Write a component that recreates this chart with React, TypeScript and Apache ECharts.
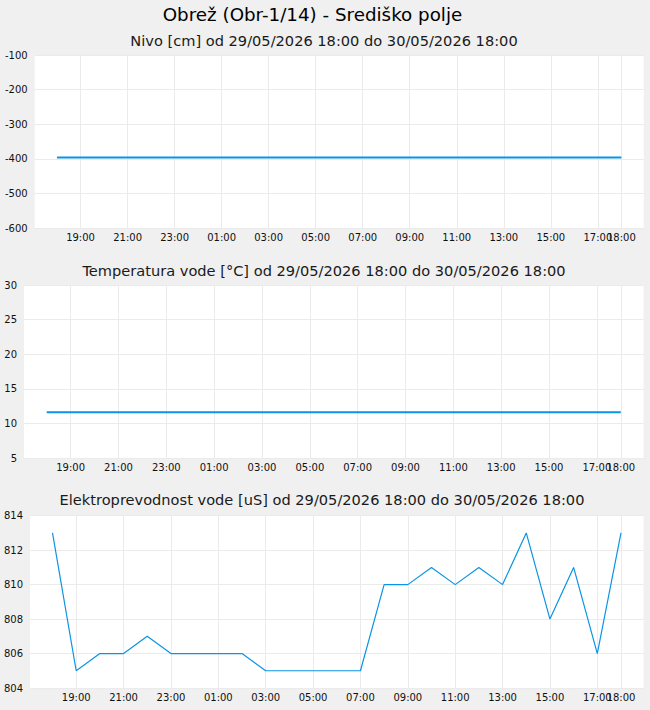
import React, { useEffect, useRef } from "react";
import * as echarts from "echarts";

const TITLE = "Obrež (Obr-1/14) - Središko polje";
const SUBTITLES = [
  "Nivo [cm] od 29/05/2026 18:00 do 30/05/2026 18:00",
  "Temperatura vode [°C] od 29/05/2026 18:00 do 30/05/2026 18:00",
  "Elektroprevodnost vode [uS] od 29/05/2026 18:00 do 30/05/2026 18:00",
];

// hours elapsed since 29/05/2026 18:00
const HOURS = [0, 1, 2, 3, 4, 5, 6, 7, 8, 9, 10, 11, 12, 13, 14, 15, 16, 17, 18, 19, 20, 21, 22, 23, 24];
const START_HOUR = 18;

const NIVO = [
  -396, -396, -396, -396, -396, -396, -396, -396, -396, -396, -396, -396, -396,
  -396, -396, -396, -396, -396, -396, -396, -396, -396, -396, -396, -396,
];
const TEMPERATURA = [
  11.6, 11.6, 11.6, 11.6, 11.6, 11.6, 11.6, 11.6, 11.6, 11.6, 11.6, 11.6, 11.6,
  11.6, 11.6, 11.6, 11.6, 11.6, 11.6, 11.6, 11.6, 11.6, 11.6, 11.6, 11.6,
];
const PREVODNOST = [
  813, 805, 806, 806, 807, 806, 806, 806, 806, 805, 805, 805, 805, 805, 810, 810,
  811, 810, 811, 810, 813, 808, 811, 806, 813,
];

// x tick positions (hours since start): 19:00, 21:00, ..., 17:00 and the final 18:00
const X_TICKS = [1, 3, 5, 7, 9, 11, 13, 15, 17, 19, 21, 23, 24];
const X_LABELS_ODD = [1, 3, 5, 7, 9, 11, 13, 15, 17, 19, 21, 23];
const X_LABELS_END = [24];
const X_MIN = -0.95;
const X_MAX = 24.95;

const Y_RANGES = [
  { min: -600, max: -100, interval: 100 },
  { min: 5, max: 30, interval: 5 },
  { min: 804, max: 814, interval: 2 },
];

const SERIES_DATA = [NIVO, TEMPERATURA, PREVODNOST];

export default function App() {
  const ref = useRef<HTMLDivElement>(null);

  useEffect(() => {
    document.body.style.margin = "0";
    if (!ref.current) return;
    const chart = echarts.init(ref.current, undefined, { renderer: "svg" });

    const FONT = "DejaVu Sans";
    const LINE_COLOR = "#0a94e6";
    const GRID_LINE = "#ebebeb";

    const grids = [
      { left: 34.7, top: 55, width: 609, height: 173 },
      { left: 24, top: 285, width: 619.5, height: 173 },
      { left: 30, top: 515.7, width: 613.5, height: 172.3 },
    ].map((g) => ({
      ...g,
      show: true,
      backgroundColor: "#ffffff",
      borderWidth: 0,
      containLabel: false,
      outerBoundsMode: "none",
    }));

    const fmtHour = (v: number) => {
      const h = (START_HOUR + Math.round(v)) % 24;
      return (h < 10 ? "0" + h : "" + h) + ":00";
    };

    const labelStyle = {
      formatter: fmtHour,
      fontFamily: FONT,
      fontSize: 10,
      color: "#111",
      margin: 4,
      hideOverlap: false,
      showMinLabel: true,
      showMaxLabel: true,
    };

    const xAxes: any[] = [];
    grids.forEach((_, i) => {
      xAxes.push({
        type: "value",
        gridIndex: i,
        position: "bottom",
        min: X_MIN,
        max: X_MAX,
        axisLine: { show: false },
        axisTick: { show: false, customValues: X_TICKS },
        axisLabel: { ...labelStyle, customValues: X_LABELS_ODD },
        splitLine: { show: true, lineStyle: { color: GRID_LINE, width: 1 } },
      });
    });
    grids.forEach((_, i) => {
      xAxes.push({
        type: "value",
        gridIndex: i,
        position: "bottom",
        offset: 0,
        min: X_MIN,
        max: X_MAX,
        axisLine: { show: false },
        axisTick: { show: false, customValues: X_LABELS_END },
        axisLabel: { ...labelStyle, customValues: X_LABELS_END },
        splitLine: { show: false },
      });
    });

    const yAxes = Y_RANGES.map((r, i) => ({
      type: "value",
      gridIndex: i,
      min: r.min,
      max: r.max,
      interval: r.interval,
      axisLine: { show: false },
      axisTick: { show: false },
      axisLabel: {
        fontFamily: FONT,
        fontSize: 10,
        color: "#111",
        margin: 7,
        showMinLabel: true,
        showMaxLabel: true,
      },
      splitLine: { show: true, lineStyle: { color: GRID_LINE, width: 1 } },
    }));

    const series = SERIES_DATA.map((vals, i) => ({
      type: "line",
      xAxisIndex: i,
      yAxisIndex: i,
      data: HOURS.map((h, k) => [h, vals[k]]),
      showSymbol: false,
      symbol: "none",
      lineStyle: { color: LINE_COLOR, width: i === 2 ? 1.2 : 2 },
      silent: true,
    }));

    const subtitleY = [40, 270, 499];
    const subtitleX = [324, 324, 322];

    chart.setOption({
      animation: false,
      backgroundColor: "#f0f0f0",
      grid: grids,
      xAxis: xAxes,
      yAxis: yAxes,
      series,
      graphic: [
        {
          type: "text",
          x: 312.5,
          y: 14,
          style: {
            text: TITLE,
            fontFamily: FONT,
            fontSize: 18.3,
            fill: "#000",
            align: "center",
            verticalAlign: "middle",
          },
        },
        ...SUBTITLES.map((t, i) => ({
          type: "text",
          x: subtitleX[i],
          y: subtitleY[i],
          style: {
            text: t,
            fontFamily: FONT,
            fontSize: 14.6,
            fill: "#1a1a1a",
            align: "center",
            verticalAlign: "middle",
          },
        })),
      ],
    });

    return () => chart.dispose();
  }, []);

  return <div ref={ref} style={{ width: 650, height: 710 }} />;
}
